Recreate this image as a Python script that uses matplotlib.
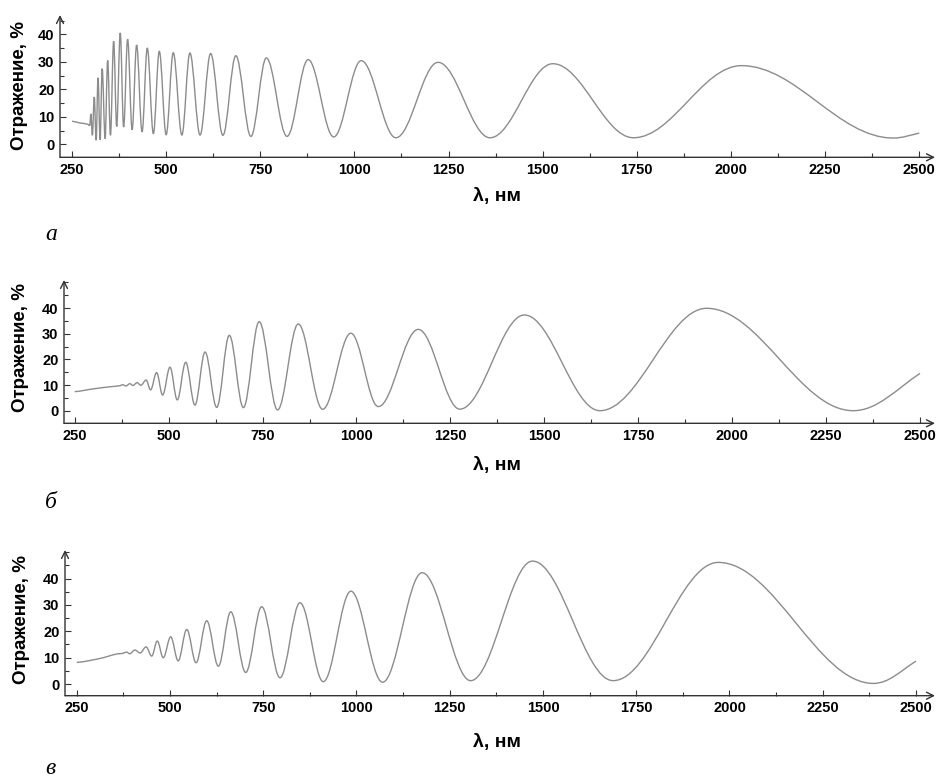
import numpy as np
import matplotlib
matplotlib.use("Agg")
import matplotlib.pyplot as plt
from matplotlib.path import Path
from matplotlib.patches import PathPatch
from matplotlib.ticker import MultipleLocator
from matplotlib.font_manager import FontProperties

# ---- data (wavelength nm, reflection %) ----
a_wl = [250, 270, 292, 297, 300, 304, 309, 314, 319, 324.5,
        330, 337.8, 344.6, 352, 360.5, 368.6, 378, 387, 397.6, 409.6,
        421.5, 436, 449.8, 466, 481.7, 500, 518.8, 541.7, 563, 590,
        618, 650.7, 685, 725, 766, 821, 877, 945, 1018, 1110,
        1222, 1360, 1527, 1741, 2028, 2431, 2500]
a_R = [8.4, 7.8, 7.3, 6.8, 11.1, 3.3, 17.2, 1.5, 24.2, 1.7,
       27.5, 2.1, 30.5, 3.3, 37.5, 6.5, 40.5, 6.3, 38.2, 5.3,
       36.1, 4.5, 35.0, 3.9, 33.8, 3.5, 33.3, 3.4, 33.2, 3.4,
       33.0, 3.3, 32.2, 2.9, 31.4, 2.9, 30.8, 2.7, 30.4, 2.4,
       29.8, 2.4, 29.3, 2.4, 28.6, 2.3, 4.1]

b_wl = [250, 300, 350, 370, 378, 386, 397, 405, 416, 426,
        440, 452, 468, 484, 503.6, 523, 545.4, 570, 597, 628,
        661.5, 699, 741, 790, 845, 910, 985, 1058, 1164.6, 1275,
        1447, 1648, 1932, 2322, 2500]
b_R = [7.5, 8.6, 9.5, 9.8, 10.2, 9.7, 10.6, 9.9, 11.0, 10.0,
       12.0, 8.2, 14.9, 6.2, 17.0, 4.3, 18.9, 2.3, 22.9, 1.4,
       29.4, 1.3, 34.7, 0.4, 33.8, 0.65, 30.2, 1.7, 31.7, 0.7,
       37.3, 0.1, 39.9, 0.1, 14.6]

c_wl = [250, 312, 357, 372, 384, 392, 406, 420, 436, 451,
        466, 482, 502, 522, 545, 570, 598.5, 629.7, 663, 703,
        746, 795, 848.6, 911, 985, 1070, 1176, 1306, 1472, 1688,
        1970, 2386, 2500]
c_R = [8.2, 9.7, 11.4, 11.6, 12.1, 11.5, 12.9, 11.8, 14.1, 10.6,
       16.3, 10.0, 17.9, 8.8, 20.7, 8.1, 24.0, 6.8, 27.4, 4.4,
       29.3, 2.4, 30.8, 0.9, 35.2, 0.7, 42.2, 1.3, 46.6, 1.3,
       46.1, 0.25, 8.7]

x_ticks = [250, 500, 750, 1000, 1250, 1500, 1750, 2000, 2250, 2500]
y_ticks = [0, 10, 20, 30, 40]
panel_letters = ["а", "б", "в"]
y_label = "Отражение, %"
x_label = "λ, нм"


def smooth_path(xs, ys):
    """Bezier path through the read points (horizontal tangent at extrema)."""
    xs = np.asarray(xs, float)
    ys = np.asarray(ys, float)
    n = len(xs)
    m = np.zeros(n)
    for i in range(n):
        if i == 0:
            m[i] = (ys[1] - ys[0]) / (xs[1] - xs[0]) * 0.5
        elif i == n - 1:
            m[i] = (ys[-1] - ys[-2]) / (xs[-1] - xs[-2]) * 1.2
        else:
            if (ys[i] - ys[i - 1]) * (ys[i + 1] - ys[i]) <= 0:
                m[i] = 0.0
            else:
                m[i] = (ys[i + 1] - ys[i - 1]) / (xs[i + 1] - xs[i - 1])
    a = 1 - 2 / np.pi
    verts = [(xs[0], ys[0])]
    codes = [Path.MOVETO]
    for i in range(n - 1):
        dx = xs[i + 1] - xs[i]
        verts += [(xs[i] + a * dx, ys[i] + m[i] * a * dx),
                  (xs[i + 1] - a * dx, ys[i + 1] - m[i + 1] * a * dx),
                  (xs[i + 1], ys[i + 1])]
        codes += [Path.CURVE4] * 3
    return Path(verts, codes)


fig = plt.figure(figsize=(9.39, 7.83), dpi=100)
W, H = 939, 783

# (left px, right px, axis-line y px, top px, xlim, ylim)
layouts = [
    (60, 935, 157.3, 15, (218, 2542), (-4.7, 47.0)),
    (64, 935, 423.3, 280, (221.5, 2540), (-4.8, 50.9)),
    (65, 935, 695.7, 550, (218.6, 2551), (-4.4, 50.8)),
]
series = [(a_wl, a_R), (b_wl, b_R), (c_wl, c_R)]
ylab_pos = [(20, 86), (21, 348), (22, 619)]
xlab_pos = [(497, 197), (497, 466), (497, 742)]
letter_pos = [(51, 234), (51, 502), (50, 768)]

tick_fp = FontProperties(family="Liberation Sans", weight="bold", size=10.5)

for k, (l, r, yb, yt, xl, yl) in enumerate(layouts):
    ax = fig.add_axes([l / W, 1 - yb / H, (r - l) / W, (yb - yt) / H])
    ax.set_xlim(*xl)
    ax.set_ylim(*yl)
    xs, ys = series[k]
    ax.add_patch(PathPatch(smooth_path(xs, ys), fill=False,
                           edgecolor="#8c8c8c", lw=1.0))
    for s in ax.spines.values():
        s.set_visible(False)
    ax.set_xticks(x_ticks)
    ax.set_yticks(y_ticks)
    ax.xaxis.set_minor_locator(MultipleLocator(125))
    ax.yaxis.set_minor_locator(MultipleLocator(5))
    ax.tick_params(which="major", direction="in", length=4, width=0.8,
                   color="#333333", pad=4)
    ax.tick_params(which="minor", direction="in", length=3, width=0.8,
                   color="#333333")
    for lab in ax.get_xticklabels() + ax.get_yticklabels():
        lab.set_fontproperties(tick_fp)
    ax.patch.set_visible(False)
    # axis lines with open arrow heads
    arrow = dict(arrowstyle="->,head_length=0.5,head_width=0.25",
                 lw=1.0, color="#333333", shrinkA=0, shrinkB=0)
    ax.annotate("", xy=(1, 0), xytext=(0, 0), xycoords="axes fraction",
                textcoords="axes fraction", arrowprops=arrow, annotation_clip=False)
    ax.annotate("", xy=(0, 1), xytext=(0, 0), xycoords="axes fraction",
                textcoords="axes fraction", arrowprops=arrow, annotation_clip=False)

    fig.text(ylab_pos[k][0] / W, 1 - ylab_pos[k][1] / H, y_label,
             rotation=90, ha="center", va="center",
             family="Liberation Sans", weight="bold", size=13.5)
    fig.text(xlab_pos[k][0] / W, 1 - xlab_pos[k][1] / H, x_label,
             ha="center", va="center",
             family="Liberation Sans", weight="bold", size=14)
    fig.text(letter_pos[k][0] / W, 1 - letter_pos[k][1] / H, panel_letters[k],
             ha="center", va="center",
             family="Liberation Serif", style="italic", size=17)

fig.savefig("out.png", dpi=100)
